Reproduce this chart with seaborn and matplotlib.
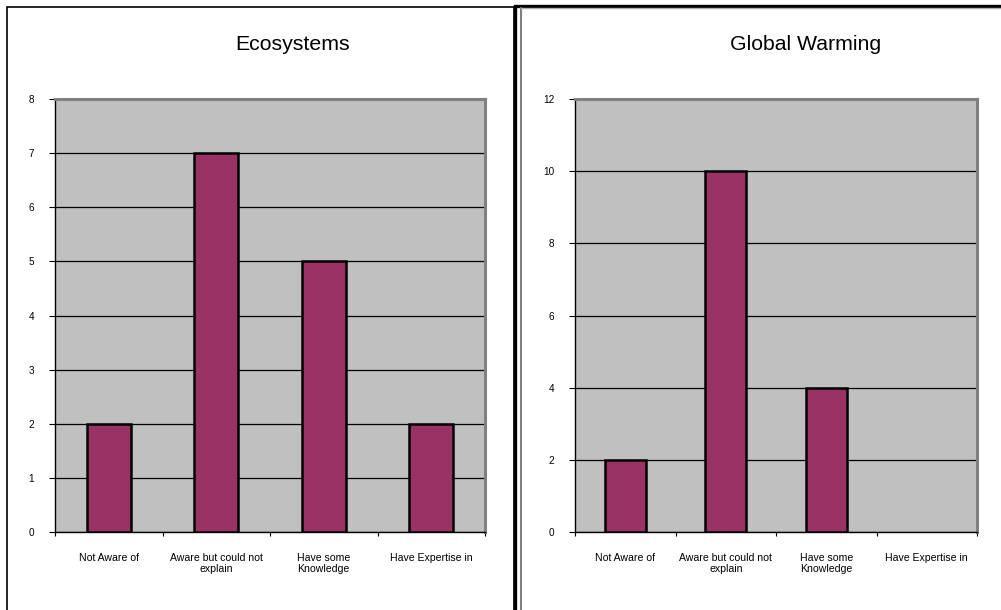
import matplotlib
matplotlib.use("Agg")
import matplotlib.pyplot as plt
from matplotlib.patches import Rectangle
from matplotlib.lines import Line2D
import seaborn as sns
import pandas as pd

# categories and counts
categories = ["Not Aware of", "Aware but could not\nexplain", "Have some\nKnowledge", "Have Expertise in"]
ecosystems = [2, 7, 5, 2]
global_warming = [2, 10, 4, 0]
eco_ticks = list(range(0, 9))
gw_ticks = list(range(0, 13, 2))

sns.set_theme(style="white")
plt.rcParams["font.family"] = ["Liberation Sans", "DejaVu Sans"]
plt.rcParams["text.color"] = "black"
plt.rcParams["xtick.color"] = "black"
plt.rcParams["ytick.color"] = "black"

W, H = 1001, 610
fig = plt.figure(figsize=(W / 100, H / 100), dpi=100)
fig.patch.set_facecolor("white")


def px_axes(x0, y0, x1, y1):
    return fig.add_axes([x0 / W, 1 - y1 / H, (x1 - x0) / W, (y1 - y0) / H])


def draw_panel(ax, values, ticks, title, title_x):
    df = pd.DataFrame({"cat": categories, "n": values})
    sns.barplot(data=df, x="cat", y="n", color="#993366", width=0.41,
                edgecolor="black", linewidth=1.8, saturation=1, ax=ax, zorder=3)
    # empty categories get no outline
    for p in ax.patches:
        if p.get_height() == 0:
            p.set_visible(False)
    ax.set_facecolor("#C0C0C0")
    ax.set_xlim(-0.5, len(categories) - 0.5)
    ax.set_ylim(ticks[0], ticks[-1])
    ax.set_yticks(ticks)
    ax.set_yticklabels([str(t) for t in ticks], fontsize=7.2)
    ax.yaxis.grid(True, color="black", linewidth=0.9)
    ax.set_axisbelow(True)
    ax.set_xlabel("")
    ax.set_ylabel("")
    # category ticks sit on the boundaries, labels at centres
    ax.set_xticks([i - 0.5 for i in range(len(categories) + 1)], minor=False)
    ax.set_xticklabels([])
    ax.set_xticks(range(len(categories)), minor=True)
    ax.set_xticklabels(categories, minor=True, fontsize=7.6, linespacing=1.15)
    ax.tick_params(axis="x", which="major", direction="out", length=3, width=0.8, color="black", bottom=True)
    ax.tick_params(axis="x", which="minor", length=0, pad=15, labelcolor="black")
    ax.tick_params(axis="y", direction="out", length=4, width=0.8, color="black", left=True, pad=11,
                   labelcolor="black")
    for s in ["top", "right"]:
        ax.spines[s].set_color("#808080")
        ax.spines[s].set_linewidth(2.2)
    for s in ["left", "bottom"]:
        ax.spines[s].set_color("black")
        ax.spines[s].set_linewidth(1.0)
    fig.text(title_x / W, 1 - 45 / H, title, ha="center", va="center", fontsize=15.3, color="black")


ax1 = px_axes(55, 99, 485, 532)
draw_panel(ax1, ecosystems, eco_ticks, "Ecosystems", 293)

ax2 = px_axes(575, 99, 977, 532)
draw_panel(ax2, global_warming, gw_ticks, "Global Warming", 806)

# panel frames
tf = fig.transFigure
fig.patches.append(Rectangle((7 / W, -0.1), (514 - 7) / W, 1.1 - 7 / H, transform=tf,
                             fill=False, edgecolor="black", linewidth=1.2))
fig.patches.append(Rectangle((514.5 / W, -0.1), 1.0, 1.1 - 5.5 / H, transform=tf,
                             fill=False, edgecolor="black", linewidth=2.4))
fig.lines.append(Line2D([520.5 / W, 520.5 / W], [0, 1 - 8 / H], transform=tf, color="#808080", linewidth=1.5))
fig.lines.append(Line2D([520.5 / W, 1.0], [1 - 8 / H, 1 - 8 / H], transform=tf, color="#B0B0B0", linewidth=1.0))

fig.savefig("out.png", dpi=100)
